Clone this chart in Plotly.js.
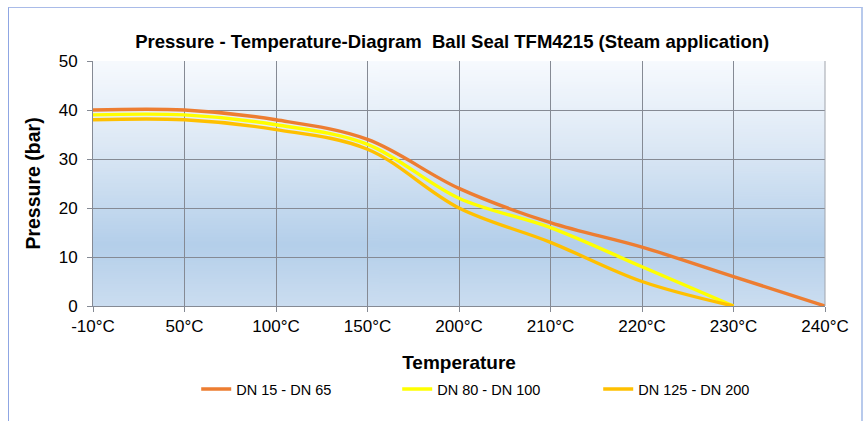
<!DOCTYPE html>
<html>
<head>
<meta charset="utf-8">
<script src="https://cdn.plot.ly/plotly-3.0.1.min.js"></script>
<style>
html,body{margin:0;padding:0;background:#fff;overflow:hidden;}
#frame{position:absolute;left:8px;top:7px;width:855px;height:430px;border-left:1.5px solid #8FA6E3;border-top:1.5px solid #A9BBE8;border-right:2px solid #B8CAEC;box-sizing:border-box;pointer-events:none;z-index:5;}
#chart{position:absolute;left:0;top:0;width:868px;height:421px;}
</style>
</head>
<body>
<div id="chart"></div>
<div id="frame"></div>
<script>
const categories = ["-10°C","50°C","100°C","150°C","200°C","210°C","220°C","230°C","240°C"];
const seriesNames = ["DN 15 - DN 65","DN 80 - DN 100","DN 125 - DN 200"];
const dn15_65  = [40, 40, 38, 34, 24, 17, 12, 6, 0];
const dn80_100 = [39, 39, 37, 33, 22, 16, 8, 0, null];
const dn125_200= [38, 38, 36, 32, 20, 13, 5, 0, null];
const colors = ["#ED7D31","#FFFF00","#FFC000"];

// gradient background for plot area
const cv = document.createElement('canvas');
cv.width = 4; cv.height = 256;
const ctx = cv.getContext('2d');
const g = ctx.createLinearGradient(0,0,0,256);
g.addColorStop(0, '#F7FAFE');
g.addColorStop(0.35, '#DCE8F5');
g.addColorStop(0.75, '#B4CFEA');
g.addColorStop(1, '#CBDDF0');
ctx.fillStyle = g; ctx.fillRect(0,0,4,256);
const bg = cv.toDataURL();

const allSeries = [dn15_65, dn80_100, dn125_200];
const traces = allSeries.map((vals,i)=>({
  x: categories, y: vals, type:'scatter', mode:'lines', name: seriesNames[i],
  line:{color:colors[i], width:3.4, shape:'spline', smoothing:1},
  connectgaps:false
}));

const font = "Liberation Sans, Arial, sans-serif";
const layout = {
  width:868, height:421,
  margin:{l:93, r:43, t:61, b:115, autoexpand:false},
  paper_bgcolor:'#ffffff', plot_bgcolor:'rgba(0,0,0,0)',
  font:{family:font, color:'#000'},
  title:{text:"<b>Pressure - Temperature-Diagram \u00a0Ball Seal TFM4215 (Steam application)</b>", font:{size:18.5, family:font, color:'#000'}, x:0.521, xanchor:'center', y:0.902, yanchor:'middle'},
  images:[{source:bg, xref:'paper', yref:'paper', x:0, y:1, sizex:1, sizey:1, sizing:'stretch', layer:'below', xanchor:'left', yanchor:'top'}],
  xaxis:{type:'category', range:[0,8], showgrid:true, gridcolor:'#858A94', gridwidth:1, automargin:false,
    ticks:'outside', ticklen:5, tickcolor:'#858A94', showline:true, linecolor:'#858A94', mirror:false,
    tickfont:{size:17, family:font}, zeroline:false,
    title:{text:'<b>Temperature</b>', font:{size:19, family:font}, standoff:20}},
  yaxis:{range:[0,50], dtick:10, showgrid:true, gridcolor:'#858A94', gridwidth:1, automargin:false,
    ticks:'outside', ticklen:5, tickcolor:'#858A94', showline:true, linecolor:'#858A94', ticklabelstandoff:6,
    tickfont:{size:17, family:font}, zeroline:false,
    title:{text:'<b>Pressure (bar)</b>', font:{size:19.5, family:font}, standoff:12}},
  shapes:[{type:'line', xref:'paper', yref:'paper', x0:1, x1:1, y0:0, y1:1, line:{color:'#A0A4AC', width:1}}],
  showlegend:true,
  legend:{orientation:'h', xref:'paper', x:0.141, xanchor:'left', yref:'container', y:0.114, yanchor:'top', font:{size:14.5, family:font}, entrywidth:156, itemwidth:30, tracegroupgap:0}
};
Plotly.newPlot('chart', traces, layout, {staticPlot:true, displayModeBar:false});
</script>
</body>
</html>
